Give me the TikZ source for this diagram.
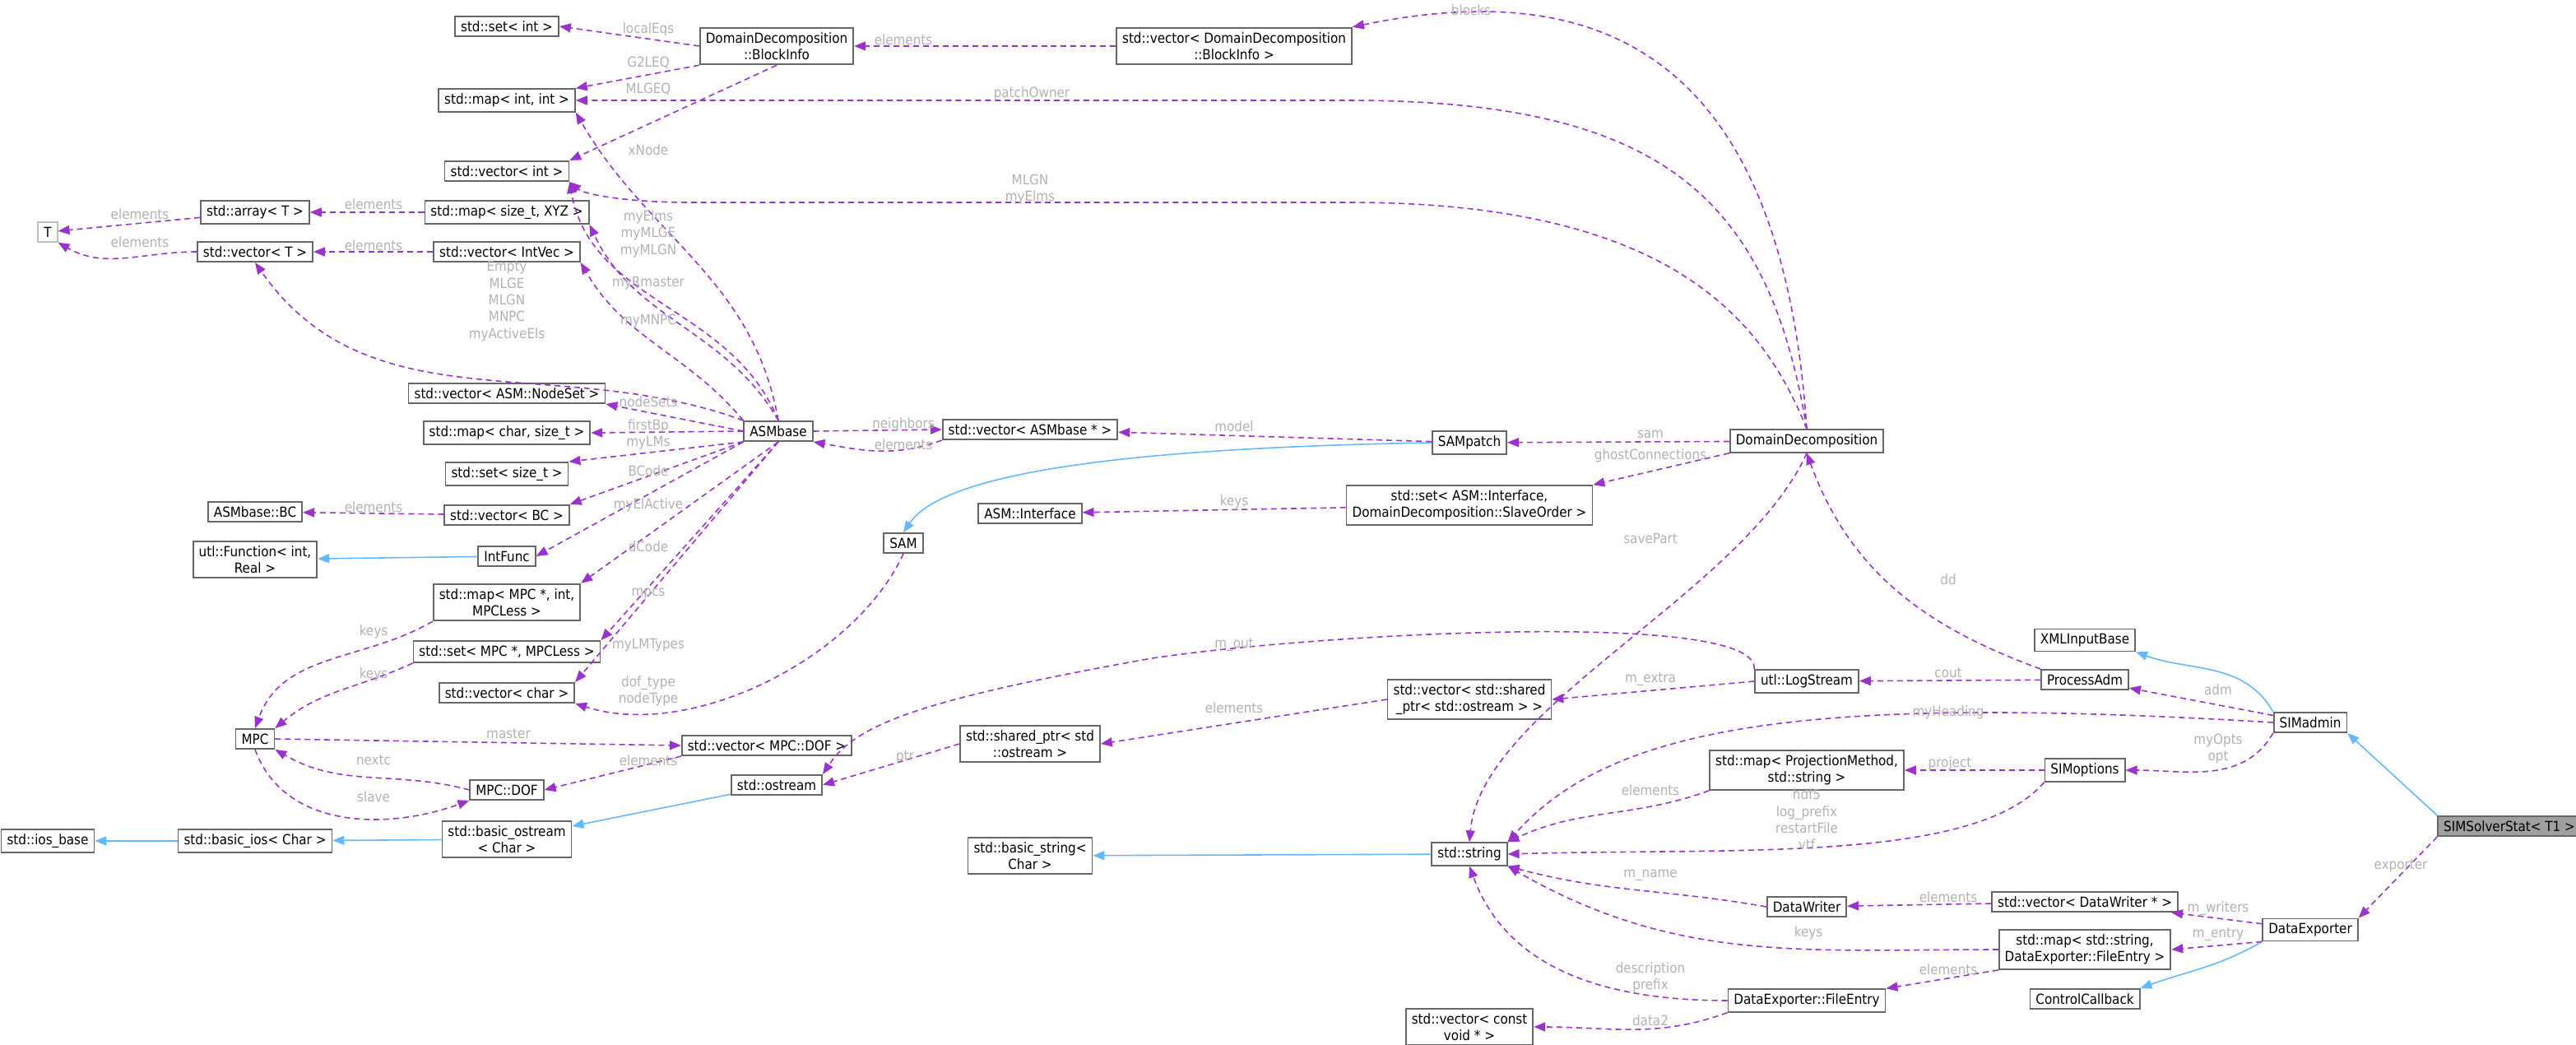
\documentclass[tikz,border=0pt]{standalone}
\usepackage{fontspec}
\setmainfont{DejaVu Sans Condensed}
\usetikzlibrary{arrows.meta}
\definecolor{edgepurple}{HTML}{9A32CD}
\definecolor{edgeblue}{HTML}{63B8FF}
\definecolor{boxgray}{HTML}{666666}
\tikzset{
  box/.style={draw=boxgray,line width=0.5pt,fill=white,inner xsep=2pt,inner ysep=1.6pt,
    font=\fontsize{4.8}{5.8}\selectfont,align=center},
  use/.style={draw=edgepurple,dashed,dash pattern=on 2pt off 1.4pt,line width=0.45pt,
    -{Triangle[length=1.4mm,width=1.1mm]}},
  isa/.style={draw=edgeblue,line width=0.45pt,-{Triangle[length=1.4mm,width=1.1mm]}},
  lbl/.style={text=gray!60,font=\fontsize{4.8}{5.8}\selectfont,align=center,inner sep=0pt}
}
\begin{document}
\begin{tikzpicture}[x=0.2mm,y=-0.2mm]
	\useasboundingbox (0,0) rectangle (1565.5,634.5);
	%LEFT COLUMN
	\node[box,draw=gray!50] (T) at (29,141) {T};
	\node[box] (arrT) at (155,129) {std::array< T >};
	\node[box] (vecT) at (155,153) {std::vector< T >};
	\node[box] (asmbc) at (155,311) {ASMbase::BC};
	\node[box] (utlfunc) at (155,340) {utl::Function< int,\\Real >};
	\node[box] (mpc) at (155,449) {MPC};
	\node[box] (iosbase) at (29,511) {std::ios\_base};
	\node[box] (basicios) at (155,511) {std::basic\_ios< Char >};
	%MIDDLE COLUMN
	\node[box] (setint) at (308,16) {std::set< int >};
	\node[box] (mapint) at (308,61) {std::map< int, int >};
	\node[box] (vecint) at (308,104) {std::vector< int >};
	\node[box] (mapxyz) at (308,129) {std::map< size\_t, XYZ >};
	\node[box] (vecintvec) at (308,153) {std::vector< IntVec >};
	\node[box] (vecnodeset) at (308,239) {std::vector< ASM::NodeSet >};
	\node[box] (mapchar) at (308,263) {std::map< char, size\_t >};
	\node[box] (setsize) at (308,288) {std::set< size\_t >};
	\node[box] (vecbc) at (308,313) {std::vector< BC >};
	\node[box] (intfunc) at (308,338) {IntFunc};
	\node[box] (mapmpc) at (308,366) {std::map< MPC *, int,\\MPCLess >};
	\node[box] (setmpc) at (308,396) {std::set< MPC *, MPCLess >};
	\node[box] (vecchar) at (308,421) {std::vector< char >};
	\node[box] (mpcdof) at (308,480) {MPC::DOF};
	\node[box] (basicostream) at (308,510) {std::basic\_ostream\\< Char >};
	\node[box] (blockinfo) at (472,28) {DomainDecomposition\\::BlockInfo};
	\node[box] (asmbase) at (473,262) {ASMbase};
	\node[box] (vecdof) at (466,453) {std::vector< MPC::DOF >};
	\node[box] (ostream) at (472,477) {std::ostream};
	%SECOND COLUMN
	\node[box] (sam) at (549,330) {SAM};
	\node[box] (vecasm) at (626,261) {std::vector< ASMbase * >};
	\node[box] (asminterface) at (626,312) {ASM::Interface};
	\node[box] (sharedptr) at (626,452) {std::shared\_ptr< std\\::ostream >};
	\node[box] (basicstring) at (626,520) {std::basic\_string<\\Char >};
	\node[box] (vecblock) at (750,28) {std::vector< DomainDecomposition\\::BlockInfo >};
	\node[box] (sampatch) at (893,269) {SAMpatch};
	\node[box] (setinterface) at (893,307) {std::set< ASM::Interface,\\DomainDecomposition::SlaveOrder >};
	\node[box] (vecshared) at (893,425) {std::vector< std::shared\\\_ptr< std::ostream > >};
	\node[box] (string) at (893,519) {std::string};
	\node[box] (vecvoid) at (893,624) {std::vector< const\\void * >};
	%RIGHT COLUMNS
	\node[box] (dd) at (1098,268) {DomainDecomposition};
	\node[box] (logstream) at (1098,414) {utl::LogStream};
	\node[box] (mapproj) at (1098,468) {std::map< ProjectionMethod,\\std::string >};
	\node[box] (datawriter) at (1098,551) {DataWriter};
	\node[box] (fileentry) at (1098,608) {DataExporter::FileEntry};
	\node[box] (xmlinput) at (1267,389) {XMLInputBase};
	\node[box] (processadm) at (1267,413) {ProcessAdm};
	\node[box] (simoptions) at (1267,468) {SIMoptions};
	\node[box] (vecdw) at (1267,548) {std::vector< DataWriter * >};
	\node[box] (mapfe) at (1267,577) {std::map< std::string,\\DataExporter::FileEntry >};
	\node[box] (controlcb) at (1267,607) {ControlCallback};
	\node[box] (simadmin) at (1404,439) {SIMadmin};
	\node[box] (dataexporter) at (1404,565) {DataExporter};
	\node[box,fill=gray!75] (solverstat) at (1525,502) {SIMSolverStat< T1 >};

	%INHERITANCE
	\draw[isa] (intfunc) -- (utlfunc);
	\draw[isa] (ostream) -- (basicostream);
	\draw[isa] (basicostream) -- (basicios);
	\draw[isa] (basicios) -- (iosbase);
	\draw[isa] (sampatch.west) .. controls (700,272) and (575,285) .. (sam.north);
	\draw[isa] (string) -- (basicstring);
	\draw[isa] (simadmin.north west) to[out=120,in=-20] (xmlinput.south east);
	\draw[isa] (solverstat.north west) -- (simadmin.south east);
	\draw[isa] (dataexporter.south west) to[out=-150,in=20] (controlcb.north east);

	%USAGE
	\draw[use] (arrT) -- (T);
	\draw[use] (vecT.west) to[out=180,in=-30] (T.south east);
	\draw[use] (mapxyz) -- (arrT);
	\draw[use] (vecintvec) -- (vecT);
	\draw[use] (vecbc) -- (asmbc);
	\draw[use] (blockinfo.west) -- (setint.east);
	\draw[use] (blockinfo.south west) -- (mapint.north east);
	\draw[use] (blockinfo.south) -- (vecint.north east);
	\draw[use] (vecblock) -- (blockinfo);
	\draw[use] (dd.north) .. controls (1082,20) and (960,-12) .. (vecblock.north east);
	\draw[use] (dd.north) .. controls (1075,120) and (1010,61) .. (820,61) -- (mapint.east);
	\draw[use] (dd.north) .. controls (1070,190) and (1010,123) .. (820,123) -- (420,123) .. controls (380,123) and (355,118) .. (vecint.south east);
	\draw[use] (asmbase.north) to[out=100,in=-60] (mapint.south east);
	\draw[use] (asmbase.north) to[out=112,in=-80] (vecint.south east);
	\draw[use] (asmbase.north) to[out=120,in=-65] (mapxyz.south east);
	\draw[use] (asmbase.north west) to[out=130,in=-60] (vecintvec.south east);
	\draw[use] (asmbase.north west) to[out=160,in=-55] (vecT.south);
	\draw[use] (asmbase.west) -- (vecnodeset.south east);
	\draw[use] (asmbase.west) -- (mapchar.east);
	\draw[use] (asmbase.south west) -- (setsize.north east);
	\draw[use] (asmbase.south west) -- (vecbc.north east);
	\draw[use] (asmbase.south west) -- (intfunc.east);
	\draw[use] (asmbase.south) -- (mapmpc.north east);
	\draw[use] (asmbase.south) -- (setmpc.north east);
	\draw[use] (asmbase.south) -- (vecchar.north east);
	\draw[use] (asmbase.east) -- (vecasm.west);
	\draw[use] (vecasm.south west) to[out=-160,in=-10] (asmbase.south east);
	\draw[use] (sam.south) .. controls (520,400) and (420,450) .. (vecchar.south east);
	\draw[use] (mapmpc.south west) to[out=-150,in=70] (mpc.north);
	\draw[use] (setmpc.south west) to[out=-155,in=40] (mpc.north east);
	\draw[use] (mpc.east) -- (vecdof.west);
	\draw[use] (vecdof.south west) -- (mpcdof.east);
	\draw[use] (mpcdof.west) to[out=165,in=-30] (mpc.south east);
	\draw[use] (mpc.south) to[out=-70,in=-160] (mpcdof.south west);
	\draw[use] (sampatch) -- (vecasm);
	\draw[use] (dd) -- (sampatch);
	\draw[use] (dd.south west) -- (setinterface.north east);
	\draw[use] (setinterface) -- (asminterface);
	\draw[use] (dd.south) .. controls (1060,360) and (900,430) .. (string.north);
	\draw[use] (processadm.north west) to[out=160,in=-70] (dd.south);
	\draw[use] (processadm) -- (logstream);
	\draw[use] (logstream.north west) .. controls (1070,370) and (800,385) .. (700,400) .. controls (560,425) and (520,440) .. (ostream.north east);
	\draw[use] (logstream.west) -- (vecshared.east);
	\draw[use] (vecshared.west) -- (sharedptr.east);
	\draw[use] (sharedptr.west) -- (ostream.east);
	\draw[use] (simadmin) -- (processadm);
	\draw[use] (simadmin.west) .. controls (1100,422) and (980,440) .. (string.north east);
	\draw[use] (simadmin.south west) to[out=-120,in=0] (simoptions.east);
	\draw[use] (simoptions) -- (mapproj);
	\draw[use] (simoptions.south west) .. controls (1200,525) and (1050,515) .. (string.east);
	\draw[use] (mapproj.south west) to[out=-160,in=25] (string.north east);
	\draw[use] (solverstat.south west) -- (dataexporter.north east);
	\draw[use] (dataexporter) -- (vecdw);
	\draw[use] (dataexporter.south west) -- (mapfe.east);
	\draw[use] (vecdw) -- (datawriter);
	\draw[use] (datawriter.west) to[out=170,in=-15] (string.south east);
	\draw[use] (mapfe.west) to[out=180,in=-30] (string.south east);
	\draw[use] (mapfe.south west) -- (fileentry.north east);
	\draw[use] (fileentry.west) to[out=180,in=-70] (string.south);
	\draw[use] (fileentry.south west) to[out=-160,in=0] (vecvoid.east);

	%LABELS
	\node[lbl] (l1) at (85,130) {elements};
	\node[lbl] (l2) at (85,147) {elements};
	\node[lbl] (l3) at (227,124) {elements};
	\node[lbl] (l4) at (227,149) {elements};
	\node[lbl] (l5) at (227,308) {elements};
	\node[lbl] (l6) at (227,384) {keys};
	\node[lbl] (l7) at (227,410) {keys};
	\node[lbl] (l8) at (227,462) {nextc};
	\node[lbl] (l9) at (227,484) {slave};
	\node[lbl] (l10) at (309,446) {master};
	\node[lbl] (l11) at (308,183) {Empty\\MLGE\\MLGN\\MNPC\\myActiveEls};
	\node[lbl] (l12) at (394,18) {localEqs};
	\node[lbl] (l13) at (394,38) {G2LEQ};
	\node[lbl] (l14) at (394,54) {MLGEQ};
	\node[lbl] (l15) at (394,91) {xNode};
	\node[lbl] (l16) at (394,142) {myElms\\myMLGE\\myMLGN};
	\node[lbl] (l17) at (394,172) {myRmaster};
	\node[lbl] (l18) at (394,195) {myMNPC};
	\node[lbl] (l19) at (394,244) {nodeSets};
	\node[lbl] (l20) at (394,259) {firstBp};
	\node[lbl] (l21) at (394,269) {myLMs};
	\node[lbl] (l22) at (394,286) {BCode};
	\node[lbl] (l23) at (394,307) {myElActive};
	\node[lbl] (l24) at (394,332) {dCode};
	\node[lbl] (l25) at (394,361) {mpcs};
	\node[lbl] (l26) at (394,392) {myLMTypes};
	\node[lbl] (l27) at (394,420) {dof\_type\\nodeType};
	\node[lbl] (l28) at (394,462) {elements};
	\node[lbl] (l29) at (549,258) {neighbors};
	\node[lbl] (l30) at (549,270) {elements};
	\node[lbl] (l31) at (550,460) {ptr};
	\node[lbl] (l32) at (549,24) {elements};
	\node[lbl] (l33) at (627,57) {patchOwner};
	\node[lbl] (l34) at (626,115) {MLGN\\myElms};
	\node[lbl] (l35) at (750,259) {model};
	\node[lbl] (l36) at (750,305) {keys};
	\node[lbl] (l37) at (750,392) {m\_out};
	\node[lbl] (l38) at (750,430) {elements};
	\node[lbl] (l39) at (894,6) {blocks};
	\node[lbl] (l40) at (1003,264) {sam};
	\node[lbl] (l41) at (1003,277) {ghostConnections};
	\node[lbl] (l42) at (1003,327) {savePart};
	\node[lbl] (l43) at (1003,413) {m\_extra};
	\node[lbl] (l44) at (1003,480) {elements};
	\node[lbl] (l45) at (1003,532) {m\_name};
	\node[lbl] (l46) at (1003,594) {description\\prefix};
	\node[lbl] (l47) at (1003,620) {data2};
	\node[lbl] (l48) at (1098,498) {hdf5\\log\_prefix\\restartFile\\vtf};
	\node[lbl] (l49) at (1099,567) {keys};
	\node[lbl] (l50) at (1184,352) {dd};
	\node[lbl] (l51) at (1184,409) {cout};
	\node[lbl] (l52) at (1184,433) {myHeading};
	\node[lbl] (l53) at (1185,464) {project};
	\node[lbl] (l54) at (1184,545) {elements};
	\node[lbl] (l55) at (1184,589) {elements};
	\node[lbl] (l56) at (1348,419) {adm};
	\node[lbl] (l57) at (1348,455) {myOpts\\opt};
	\node[lbl] (l58) at (1348,552) {m\_writers};
	\node[lbl] (l59) at (1348,568) {m\_entry};
	\node[lbl] (l60) at (1459,526) {exporter};
\end{tikzpicture}
\end{document}
